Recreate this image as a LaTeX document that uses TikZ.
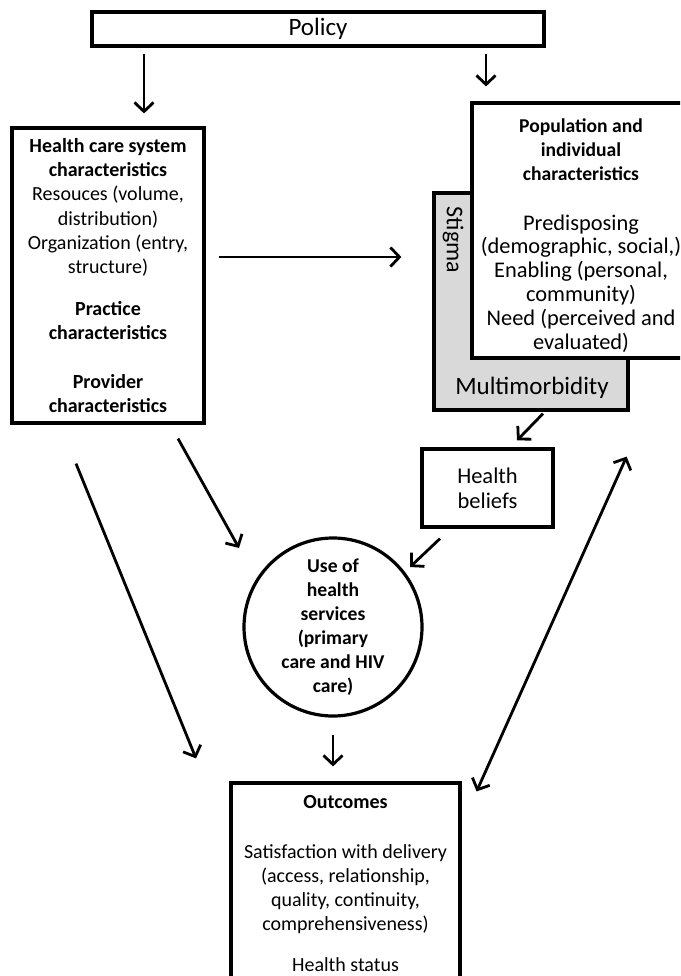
\documentclass[tikz,border=0pt]{standalone}
\usepackage{fontspec}
\setmainfont{Carlito}
\usetikzlibrary{arrows.meta}
\newcommand\txtsz{\fontsize{20}{24.2}\selectfont}
\newcommand\popsz{\fontsize{19.6}{23.8}\selectfont}
\newcommand\bb{\fontsize{22.4}{23.8}\selectfont}
\newcommand\bigsz{\fontsize{25}{27}\selectfont}

\begin{document}
\begin{tikzpicture}[x=1pt, y=-1pt,
  box/.style={draw, line width=3.2pt, inner sep=0pt, align=center, font=\txtsz},
  arr/.style={line width=2.8pt, -{Straight Barb[length=9pt, width=19pt]}}]
  \clip (0,0) rectangle (680,976);
  \node (pol) [box, minimum width=452pt, minimum height=34pt, font=\fontsize{25}{28}\selectfont] at (318,29) {Policy};
  \node (hcs) [box, minimum width=192pt, minimum height=295pt] at (108,275.5) {\textbf{Health care system}\\ \textbf{characteristics}\\ Resouces (volume,\\ distribution)\\ Organization (entry,\\ structure)\\[18pt] \textbf{Practice}\\ \textbf{characteristics}\\[24pt] \textbf{Provider}\\ \textbf{characteristics}};
  \node (gray) [box, fill=black!15, minimum width=194pt, minimum height=217pt] at (531,301.5) {};
  \node (stig) [rotate=-90, font=\fontsize{24}{26}\selectfont] at (453,240) {Stigma};
  \node (mm) [font=\bigsz] at (532,388) {Multimorbidity};
  \node (pop) [box, fill=white, minimum width=218pt, minimum height=255pt, font=\popsz] at (581,230.5) {\rule{0pt}{24pt}\textbf{Population and}\\ \textbf{individual}\\ \textbf{characteristics}\\[26pt] \bb Predisposing\\ \bb (demographic, social,)\\ \bb Enabling (personal,\\ \bb community)\\ \bb Need (perceived and\\ \bb evaluated)};
  \node (hb) [box, minimum width=131pt, minimum height=78pt, font=\fontsize{22.5}{25}\selectfont] at (487.5,488) {Health\\ beliefs};
  \node (use) [box, circle, minimum size=178pt, font=\fontsize{19.6}{24}\selectfont\bfseries] at (333,627) {Use of\\ health\\ services\\ (primary\\ care and HIV\\ care)};
  \node (out) [box, minimum width=229pt, minimum height=202pt] at (345.5,884) {\textbf{Outcomes}\\[25pt] Satisfaction with delivery\\ (access, relationship,\\ quality, continuity,\\ comprehensiveness)\\[17pt] Health status};
  \draw[arr] ([shift={(-174,6)}]pol.south) -- ([shift={(36,-13)}]hcs.north);
  \draw[arr] ([shift={(168,6)}]pol.south) -- ([shift={(-95,-15)}]pop.north);
  \draw[arr] ([shift={(13,-18.5)}]hcs.east) -- ([shift={(-31,-44.5)}]gray.west);
  \draw[arr] ([shift={(12,2)}]gray.south) -- ([shift={(29.5,-7)}]hb.north);
  \draw[arr] ([shift={(-47.5,10)}]hb.south) -- ([shift={(77,-60)}]use.center);
  \draw[arr] ([shift={(70,14)}]hcs.south) -- ([shift={(-94,-79)}]use.center);
  \draw[arr] ([shift={(-32,39)}]hcs.south) -- ([shift={(-149.5,-23)}]out.north);
  \draw[arr] ([shift={(0,17)}]use.south) -- ([shift={(-12.5,-15)}]out.north);
  \draw[arr, {Straight Barb[length=9pt, width=19pt]}-{Straight Barb[length=9pt, width=19pt]}] ([shift={(15,10)}]out.north east) -- ([shift={(-3,45)}]gray.south east);
\end{tikzpicture}
\end{document}
